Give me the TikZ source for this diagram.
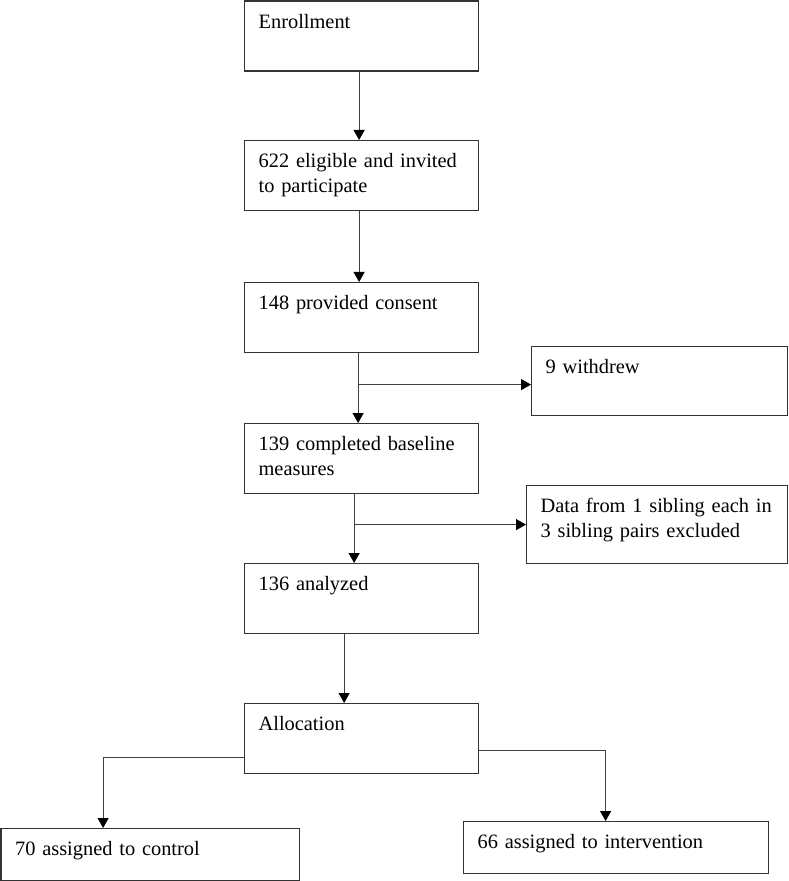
\documentclass[tikz,border=0pt]{standalone}
\usepackage{fontspec}
\setmainfont{Liberation Serif}
\usetikzlibrary{arrows.meta}

\begin{document}
\begin{tikzpicture}[x=0.5pt, y=-0.5pt,
    stage/.style={draw=black!80, line width=0.6pt, anchor=north west, align=left,
      inner xsep=7pt, inner ysep=0pt, text height=13.5pt, text depth=21.5pt,
      text width=103pt, font=\fontsize{10.2}{12.5}\selectfont},
    flow/.style={draw=black!75, line width=0.55pt, -{Triangle[length=5pt, width=5.5pt, fill=black, color=black]}}]
  \useasboundingbox (0, 0) rectangle (788, 881);

  % main column
  \node[stage] (enroll) at (244, 0.5) {Enrollment};
  \node[stage] (elig) at (244, 140) {622 eligible and invited\\to participate};
  \node[stage] (consent) at (244, 282) {148 provided consent};
  \node[stage] (base) at (244, 423) {139 completed baseline\\measures};
  \node[stage] (analyzed) at (244, 563) {136 analyzed};
  \node[stage] (alloc) at (244, 703) {Allocation};

  % side boxes
  \node[stage, text width=114pt, text depth=21pt] (withdrew) at (531, 346) {9 withdrew};
  \node[stage, text width=116.5pt, text depth=25.5pt] (data) at (526, 485) {Data from 1 sibling each in\\3 sibling pairs excluded};
  \node[stage, text width=135pt, text depth=12.5pt] (control) at (0.5, 828) {70 assigned to control};
  \node[stage, text width=138.5pt, text depth=12.5pt] (interv) at (463, 821) {66 assigned to intervention};

  \draw[flow] ([xshift=-1.25pt]enroll.south) -- ([xshift=-1.25pt]elig.north);
  \draw[flow] ([xshift=-1.25pt]elig.south) -- ([xshift=-1.25pt]consent.north);
  \draw[flow] ([xshift=-1.75pt]consent.south) -- ([xshift=-1.75pt]base.north);
  \draw[flow] ([xshift=-3.75pt]base.south) -- ([xshift=-3.75pt]analyzed.north);
  \draw[flow] ([xshift=-8.75pt]analyzed.south) -- ([xshift=-8.75pt]alloc.north);

  \coordinate (cut1) at ([xshift=-1.75pt, yshift=-1.75pt]consent.south |- withdrew.west);
  \coordinate (cut2) at ([xshift=-3.75pt]base.south |- data.west);
  \draw[flow] (cut1) -- (cut1 -| withdrew.west);
  \draw[flow] (cut2) -- (cut2 -| data.west);

  \draw[flow] ([yshift=-9.5pt]alloc.west) -| ([xshift=-23.5pt]control.north);
  \draw[flow] ([yshift=-6pt]alloc.east) -| ([xshift=-5.25pt]interv.north);
\end{tikzpicture}
\end{document}
